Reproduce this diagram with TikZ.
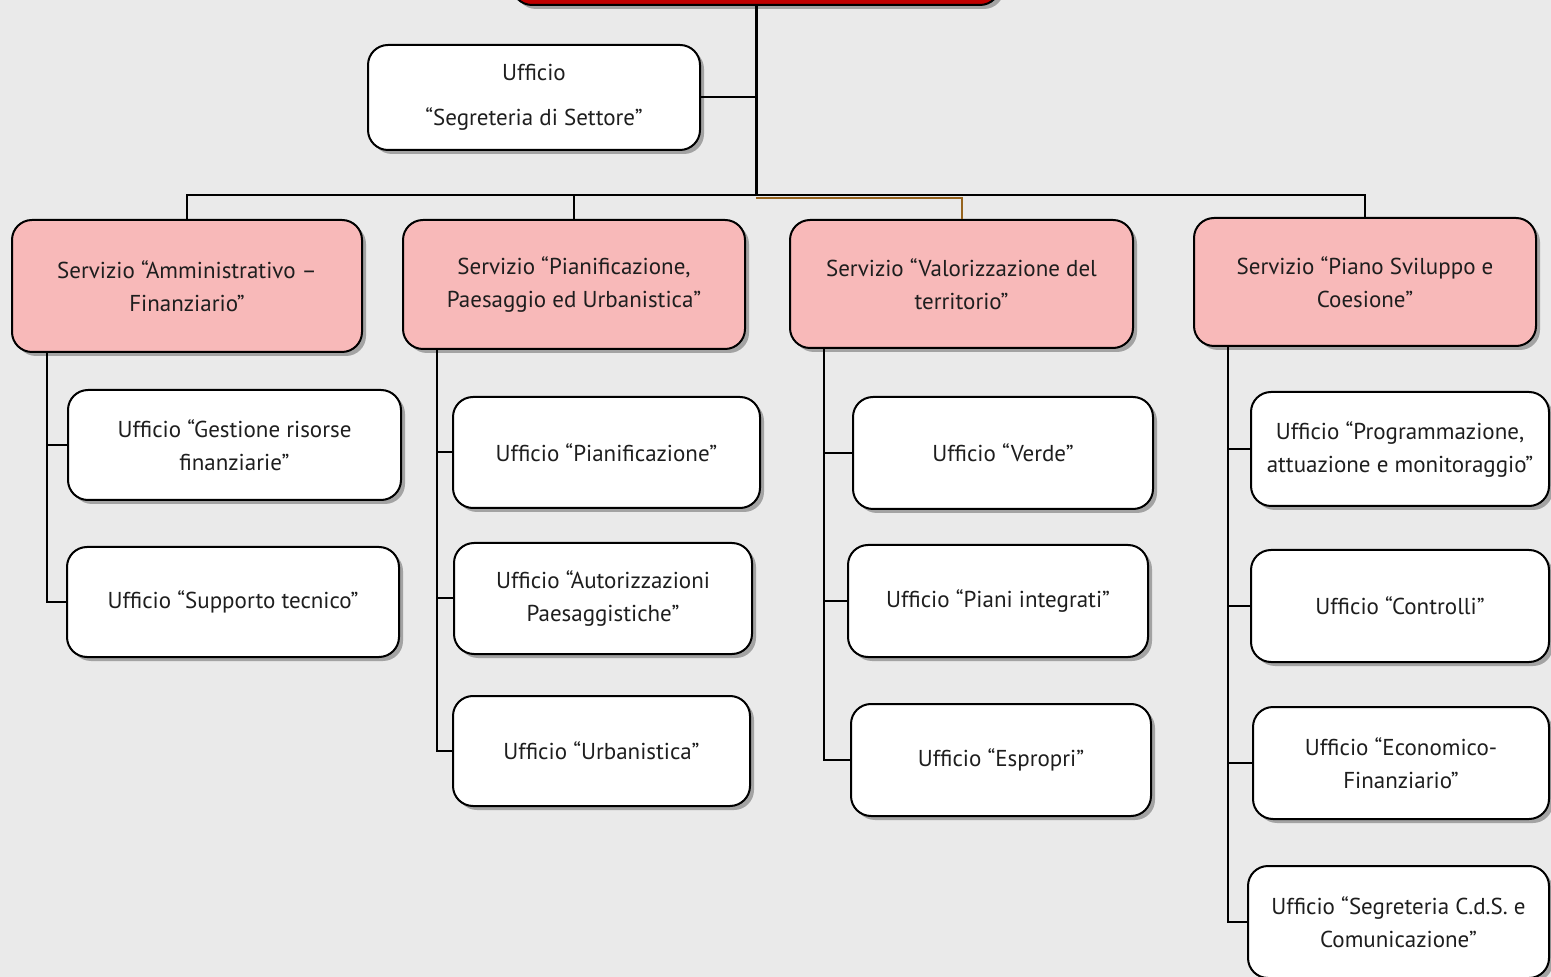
\documentclass[tikz,border=0pt]{standalone}
\usepackage{fontspec}
\setmainfont{PT Sans}
\usetikzlibrary{shadows,calc}
\definecolor{bgc}{RGB}{234,234,234}
\definecolor{redbox}{RGB}{192,0,0}
\definecolor{pinkbox}{RGB}{248,185,185}
\definecolor{txt}{RGB}{30,30,30}
\definecolor{brownline}{RGB}{150,100,30}
\tikzset{
  boxbase/.style={draw=black, line width=1pt, rounded corners=10pt, align=center,
    text=txt, font=\fontsize{11.5}{16.5}\selectfont, inner sep=2pt,
    drop shadow={shadow xshift=2pt, shadow yshift=-2pt, opacity=0.3, fill=black}},
  topbox/.style={boxbase, fill=redbox},
  svc/.style={boxbase, fill=pinkbox},
  ufc/.style={boxbase, fill=white},
  conn/.style={draw=black, line width=1pt},
  trunk/.style={draw=black, line width=1.5pt}
}
\begin{document}
\begin{tikzpicture}[x=0.5pt, y=-0.5pt]
\useasboundingbox (0,0) rectangle (1551,977);
\clip (0,0) rectangle (1551,977);
\fill[bgc] (0,0) rectangle (1551,977);

% top box
\node[topbox, minimum width=244pt, minimum height=32.5pt] (top) at (756,-27.5) {};
% segreteria
\node[ufc, minimum width=166pt, minimum height=52.5pt] (seg) at (534,97.5) {\raisebox{-1.5pt}{Ufficio}\\[6pt]\raisebox{-1.5pt}{“Segreteria di Settore”}};

% servizi
\node[svc, minimum width=175pt, minimum height=66pt] (S1) at (187,286) {Servizio “Amministrativo –\\Finanziario”};
\node[svc, minimum width=171pt, minimum height=64.5pt] (S2) at (574,284.5) {Servizio “Pianificazione,\\Paesaggio ed Urbanistica”};
\node[svc, minimum width=171.5pt, minimum height=64pt] (S3) at (961.5,284) {Servizio “Valorizzazione del\\territorio”};
\node[svc, minimum width=171pt, minimum height=64pt] (S4) at (1365,282) {Servizio “Piano Sviluppo e\\Coesione”};

% uffici col 1
\node[ufc, minimum width=166.5pt, minimum height=55pt] (A1) at (234.5,445) {Ufficio “Gestione risorse\\finanziarie”};
\node[ufc, minimum width=166pt, minimum height=55pt] (A2) at (233,602) {Ufficio “Supporto tecnico”};
% col 2
\node[ufc, minimum width=153.5pt, minimum height=55.5pt] (B1) at (606.5,452.5) {Ufficio “Pianificazione”};
\node[ufc, minimum width=149pt, minimum height=55.5pt] (B2) at (603,598.5) {Ufficio “Autorizzazioni\\Paesaggistiche”};
\node[ufc, minimum width=148.5pt, minimum height=55pt] (B3) at (601.5,751) {Ufficio “Urbanistica”};
% col 3
\node[ufc, minimum width=150pt, minimum height=56pt] (C1) at (1003,453) {Ufficio “Verde”};
\node[ufc, minimum width=150pt, minimum height=56pt] (C2) at (998,601) {Ufficio “Piani integrati”};
\node[ufc, minimum width=150pt, minimum height=56pt] (C3) at (1001,760) {Ufficio “Espropri”};
% col 4
\node[ufc, minimum width=149pt, minimum height=57pt] (D1) at (1400,449) {Ufficio “Programmazione,\\attuazione e monitoraggio”};
\node[ufc, minimum width=149pt, minimum height=56pt] (D2) at (1400,606) {Ufficio “Controlli”};
\node[ufc, minimum width=148pt, minimum height=56pt] (D3) at (1401,763) {Ufficio “Economico-\\Finanziario”};
\node[ufc, minimum width=150.5pt, minimum height=56pt] (D4) at (1398.5,922) {Ufficio “Segreteria C.d.S. e\\Comunicazione”};

% trunk and bus
\coordinate (bus) at (756,195);
\coordinate (busb) at (756,198);
\draw[trunk] (top.south) -- (bus);
\draw[conn] (seg.east) -- (seg.east -| top.south);
\draw[conn] (S1.north) |- (bus);
\draw[conn] (S4.north) |- (bus);
\draw[conn] (S2.north) -- (S2.north |- bus);
\draw[draw=brownline, line width=1pt] (S3.north) |- (busb);

% column branches
\coordinate (v1) at (47,352);
\draw[conn] (v1) |- (A2.west);
\draw[conn] (A1.west) -- (A1.west -| v1);

\coordinate (v2) at (437,349);
\draw[conn] (v2) |- (B3.west);
\draw[conn] (B1.west) -- (B1.west -| v2);
\draw[conn] (B2.west) -- (B2.west -| v2);

\coordinate (v3) at (824,348);
\draw[conn] (v3) |- (C3.west);
\draw[conn] (C1.west) -- (C1.west -| v3);
\draw[conn] (C2.west) -- (C2.west -| v3);

\coordinate (v4) at (1228,346);
\draw[conn] (v4) |- (D4.west);
\draw[conn] (D1.west) -- (D1.west -| v4);
\draw[conn] (D2.west) -- (D2.west -| v4);
\draw[conn] (D3.west) -- (D3.west -| v4);
\end{tikzpicture}
\end{document}
